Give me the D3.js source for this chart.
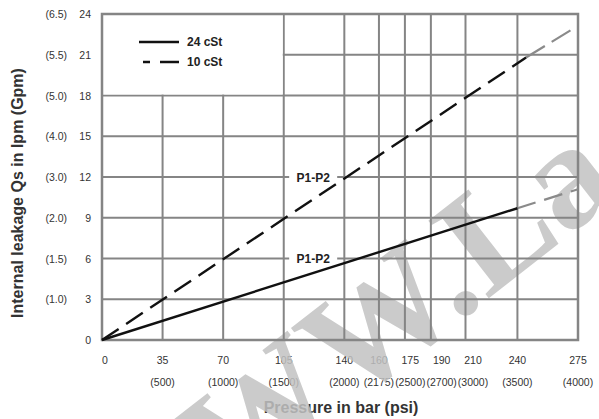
<!DOCTYPE html>
<html>
<head>
<meta charset="utf-8">
<script src="https://cdn.jsdelivr.net/npm/d3@7"></script>
<style>
  body { margin: 0; background: #fff; }
  svg { display: block; }
  text { font-family: "Liberation Sans", Arial, sans-serif; }
</style>
</head>
<body>
<svg width="599" height="419"></svg>
<script>
// **** data ****
var barTicks = [0, 35, 70, 105, 140, 160, 175, 190, 210, 240, 275];
var psiTicks = ['', '(500)', '(1000)', '(1500)', '(2000)', '(2175)', '(2500)', '(2700)', '(3000)', '(3500)', '(4000)'];
var lpmTicks = [0, 3, 6, 9, 12, 15, 18, 21, 24];
var gpmTicks = ['', '(1.0)', '(1.5)', '(2.0)', '(3.0)', '(4.0)', '(5.0)', '(5.5)', '(6.5)'];

// measured part (black) and extrapolated part (grey) of each curve
var cst24 = [[0, 0], [240, 9.7]];
var cst24Ext = [[240, 9.7], [275, 11.1]];
var cst10 = [[0, 0], [245, 20.8]];
var cst10Ext = [[245, 20.8], [272, 22.9]];

var notes = [{text: 'P1-P2', bar: 122, lpm: 12}, {text: 'P1-P2', bar: 122, lpm: 6}];

// **** scales ****
var x = d3.scaleLinear().domain([0, 275]).range([102, 578]);
var y = d3.scaleLinear().domain([0, 24]).range([340, 14]);

var svg = d3.select('svg');
var gridColor = '#858585';

// psi labels first, pushed right where they would collide
var psi = svg.append('g').selectAll('text')
    .data(psiTicks).enter().append('text')
    .attr('y', 386)
    .attr('text-anchor', 'middle')
    .style('font-size', '10.5px').style('fill', '#333')
    .text(function(d){ return d; });

var labelX = [];
var lastRight = -Infinity;
psi.each(function(d, i){
    var w = this.getComputedTextLength();
    var cx = x(barTicks[i]);
    if (w > 0 && cx - w / 2 < lastRight + 1) cx = lastRight + 1 + w / 2;
    if (w > 0) lastRight = cx + w / 2;
    labelX.push(cx);
});
psi.attr('x', function(d, i){ return labelX[i]; });

svg.append('g').selectAll('text')
    .data(barTicks).enter().append('text')
    .attr('x', function(d, i){ return d === 0 ? x(d) + 3 : labelX[i]; })
    .attr('y', 364)
    .attr('text-anchor', 'middle')
    .style('font-size', '10.5px').style('fill', '#333')
    .text(function(d){ return d; });

svg.append('g').selectAll('text')
    .data(lpmTicks).enter().append('text')
    .attr('x', 91)
    .attr('y', function(d){ return y(d) + 4; })
    .attr('text-anchor', 'end')
    .style('font-size', '10.5px').style('fill', '#333')
    .text(function(d){ return d; });

svg.append('g').selectAll('text')
    .data(gpmTicks).enter().append('text')
    .attr('x', 67)
    .attr('y', function(d, i){ return y(lpmTicks[i]) + 4; })
    .attr('text-anchor', 'end')
    .style('font-size', '10.5px').style('fill', '#333')
    .text(function(d){ return d; });

svg.append('text')
    .attr('transform', 'translate(341,413)')
    .attr('text-anchor', 'middle')
    .style('font-size', '16px').style('font-weight', 'bold').style('fill', '#333')
    .text('Pressure in bar (psi)');

svg.append('text')
    .attr('transform', 'translate(23,193) rotate(-90)')
    .attr('text-anchor', 'middle')
    .style('font-size', '16px').style('font-weight', 'bold').style('fill', '#333')
    .text('Internal leakage Qs in lpm (Gpm)');

// watermark, placed so that its dot sits at (467,305)
var mark = svg.append('text')
    .attr('transform', 'translate(467,305) rotate(-38)')
    .style('font-family', '"Liberation Serif", "DejaVu Serif", serif')
    .style('font-size', '150px').style('font-weight', 'bold')
    .style('fill', '#c2c2c2').style('opacity', 0.85)
    .text('WWW.La');
var markNode = mark.node();
mark.attr('x', -(markNode.getSubStringLength(0, 3) + markNode.getSubStringLength(3, 1) / 2))
    .attr('y', 8);

// **** grid ****
svg.append('g').selectAll('line')
    .data(barTicks.slice(1, -1)).enter().append('line')
    .attr('x1', x).attr('x2', x)
    .attr('y1', y(0)).attr('y2', y(24))
    .attr('stroke', gridColor).attr('stroke-width', 2);

svg.append('g').selectAll('line')
    .data(lpmTicks.slice(1, -1)).enter().append('line')
    .attr('x1', x(0)).attr('x2', x(275))
    .attr('y1', y).attr('y2', y)
    .attr('stroke', gridColor).attr('stroke-width', 2);

// legend box hides the grid behind it
svg.append('rect')
    .attr('x', x(0)).attr('y', y(24))
    .attr('width', x(105) - x(0) - 1).attr('height', y(18) - y(24) - 1)
    .attr('fill', '#fff');

svg.append('rect')
    .attr('x', x(0)).attr('y', y(24))
    .attr('width', x(275) - x(0)).attr('height', y(0) - y(24))
    .attr('fill', 'none')
    .attr('stroke', gridColor).attr('stroke-width', 2.5);

// notes on the grid lines
var note = svg.append('g').selectAll('g')
    .data(notes).enter().append('g')
    .attr('transform', function(d){ return 'translate(' + x(d.bar) + ',' + y(d.lpm) + ')'; });

note.append('rect')
    .attr('x', -24).attr('y', -6).attr('width', 48).attr('height', 12)
    .attr('fill', '#fff');

note.append('text')
    .attr('y', 4.5)
    .attr('text-anchor', 'middle')
    .style('font-size', '12px').style('font-weight', 'bold').style('fill', '#222')
    .text(function(d){ return d.text; });

// **** curves ****
var line = d3.line()
    .x(function(d){ return x(d[0]); })
    .y(function(d){ return y(d[1]); });

svg.append('path').datum(cst24Ext)
    .attr('d', line).attr('fill', 'none')
    .attr('stroke', '#8a8a8a').attr('stroke-width', 2.2)
    .attr('stroke-dasharray', '19,9');

svg.append('path').datum(cst10Ext)
    .attr('d', line).attr('fill', 'none')
    .attr('stroke', '#8a8a8a').attr('stroke-width', 2.2)
    .attr('stroke-dasharray', '22,8');

svg.append('path').datum(cst24)
    .attr('d', line).attr('fill', 'none')
    .attr('stroke', '#111').attr('stroke-width', 2.4);

svg.append('path').datum(cst10)
    .attr('d', line).attr('fill', 'none')
    .attr('stroke', '#111').attr('stroke-width', 2.4)
    .attr('stroke-dasharray', '20,9');

// **** legend ****
var legend = svg.append('g');

legend.append('line')
    .attr('x1', 139).attr('x2', 179).attr('y1', 42).attr('y2', 42)
    .attr('stroke', '#111').attr('stroke-width', 2.4);

legend.append('line')
    .attr('x1', 143).attr('x2', 179).attr('y1', 62).attr('y2', 62)
    .attr('stroke', '#111').attr('stroke-width', 2.4)
    .attr('stroke-dasharray', '7,10,19');

legend.append('text')
    .attr('x', 187).attr('y', 46)
    .style('font-size', '12px').style('font-weight', 'bold').style('fill', '#222')
    .text('24 cSt');

legend.append('text')
    .attr('x', 187).attr('y', 66)
    .style('font-size', '12px').style('font-weight', 'bold').style('fill', '#222')
    .text('10 cSt');
</script>
</body>
</html>
